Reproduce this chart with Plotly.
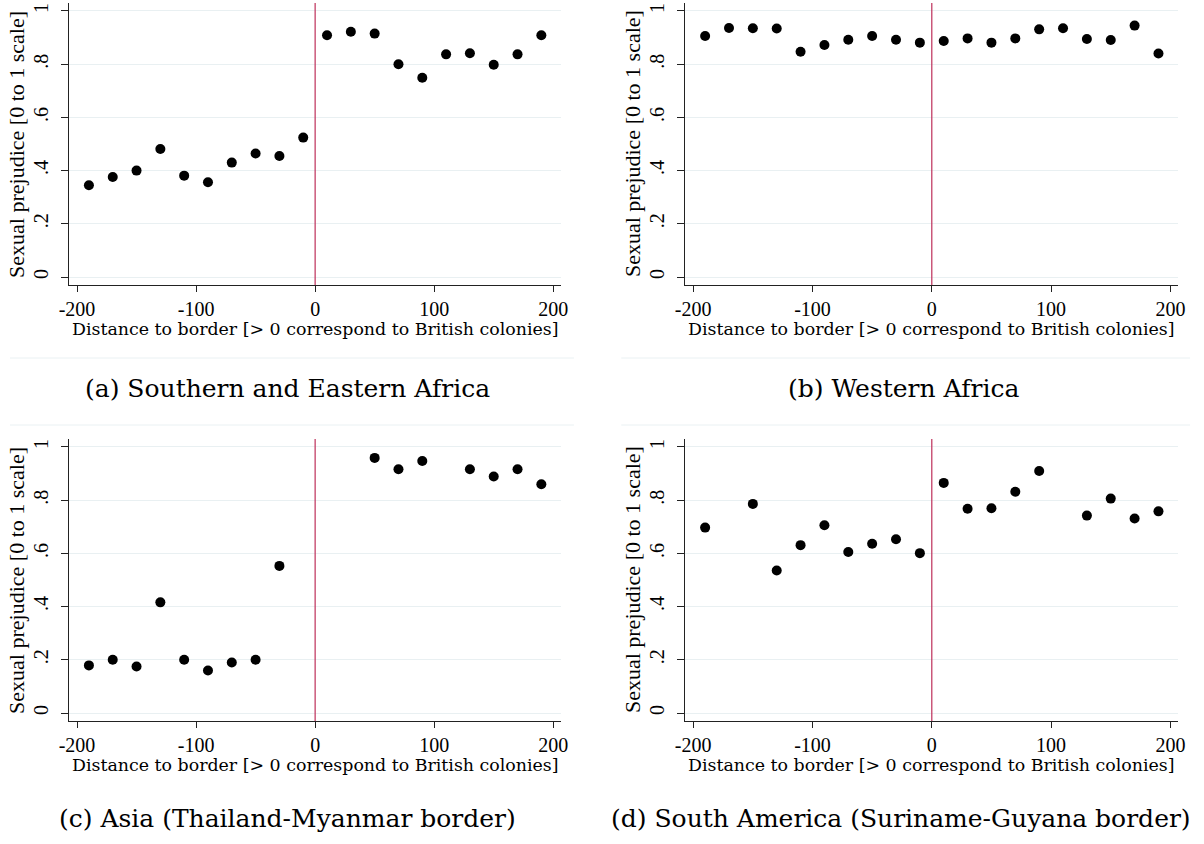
import plotly.graph_objects as go

# Distance bins (km) to the colonial border; > 0 are former British colonies
dist = [-190, -170, -150, -130, -110, -90, -70, -50, -30, -10,
        10, 30, 50, 70, 90, 110, 130, 150, 170, 190]

# Mean sexual prejudice (0-1 scale) per distance bin; None = no observations
south_east_africa = [0.345, 0.376, 0.400, 0.481, 0.381, 0.356, 0.430, 0.464, 0.455, 0.524,
                     0.909, 0.922, 0.915, 0.800, 0.749, 0.837, 0.841, 0.798, 0.837, 0.909]
western_africa = [0.906, 0.936, 0.935, 0.934, 0.847, 0.872, 0.892, 0.906, 0.892, 0.881,
                  0.887, 0.897, 0.881, 0.897, 0.931, 0.935, 0.895, 0.891, 0.945, 0.840]
asia = [0.179, 0.200, 0.175, 0.416, 0.200, 0.160, 0.190, 0.200, 0.553, None,
        None, None, 0.959, 0.916, 0.947, None, 0.916, 0.889, 0.916, 0.860]
south_america = [0.697, None, 0.786, 0.536, 0.631, 0.706, 0.605, 0.636, 0.653, 0.601,
                 0.865, 0.768, 0.770, 0.832, 0.910, None, 0.742, 0.806, 0.731, 0.758]

captions = ["(a) Southern and Eastern Africa", "(b) Western Africa",
            "(c) Asia (Thailand-Myanmar border)", "(d) South America (Suriname-Guyana border)"]

x_tickvals = [-200, -100, 0, 100, 200]
x_ticktext = ["-200", "-100", "0", "100", "200"]
y_tickvals = [0, 0.2, 0.4, 0.6, 0.8, 1]
y_ticktext = ["0", ".2", ".4", ".6", ".8", "1"]

x_title = "Distance to border [> 0 correspond to British colonies]"
y_title = "Sexual prejudice [0 to 1 scale]"

W, H = 1204, 844
SERIF = "Liberation Serif, Times New Roman, serif"
WIDE_SERIF = "DejaVu Serif, serif"

def px_x(v):
    return v / W

def px_y(v):
    return 1 - v / H

# panel geometry in pixels: (left, right, top, bottom)
panels = [(60, 559, 3, 285), (685, 1185, 3, 285),
          (60, 559, 439, 721), (685, 1185, 439, 721)]
caption_pos = [(281, 388), (906, 388), (281, 818), (904, 818)]
series = [south_east_africa, western_africa, asia, south_america]

fig = go.Figure()
layout = dict(
    width=W, height=H,
    margin=dict(l=0, r=0, t=0, b=0),
    paper_bgcolor="white", plot_bgcolor="white",
    showlegend=False,
    font=dict(family=SERIF, color="black"),
)
shapes, annotations = [], []

for i, (vals, (l, r, t, b)) in enumerate(zip(series, panels)):
    k = "" if i == 0 else str(i + 1)
    xa, ya = "x" + k, "y" + k
    fig.add_trace(go.Scatter(
        x=dist, y=vals, mode="markers", xaxis=xa, yaxis=ya,
        marker=dict(color="black", size=10, line=dict(width=0)),
        hoverinfo="x+y",
    ))
    layout["xaxis" + k] = dict(
        domain=[px_x(l), px_x(r)], anchor=ya, range=[-206.6, 206.6],
        tickvals=x_tickvals, ticktext=x_ticktext, ticks="outside", ticklen=6,
        tickcolor="#222", tickfont=dict(size=20, family=SERIF),
        showline=True, linecolor="#222", linewidth=1.2,
        showgrid=False, zeroline=False,
    )
    layout["yaxis" + k] = dict(
        domain=[px_y(b), px_y(t)], anchor=xa, range=[-0.03, 1.03],
        tickvals=y_tickvals, ticktext=y_ticktext, ticks="outside", ticklen=7,
        tickcolor="#222", tickangle=-90, tickfont=dict(size=20, family=SERIF),
        ticklabelstandoff=5,
        showline=True, linecolor="#222", linewidth=1.2,
        showgrid=True, gridcolor="#e9f0f2", gridwidth=1, zeroline=False,
    )
    # border at distance 0
    shapes.append(dict(type="line", xref=xa, yref=ya + " domain",
                       x0=0, x1=0, y0=0, y1=1,
                       line=dict(color="#bd2f5a", width=1.2)))
    # axis titles
    annotations.append(dict(text=x_title, xref="paper", yref="paper",
                            x=px_x((l + r) / 2), y=px_y(b + 44),
                            showarrow=False, xanchor="center", yanchor="middle",
                            font=dict(size=17.4, family=WIDE_SERIF)))
    annotations.append(dict(text=y_title, xref="paper", yref="paper",
                            x=px_x(l - 54), y=px_y((t + b) / 2), textangle=-90,
                            showarrow=False, xanchor="center", yanchor="middle",
                            font=dict(size=22, family=SERIF)))
    cx, cy = caption_pos[i]
    annotations.append(dict(text=captions[i], xref="paper", yref="paper",
                            x=px_x(cx), y=px_y(cy),
                            showarrow=False, xanchor="center", yanchor="middle",
                            font=dict(size=25, family=WIDE_SERIF)))

# faint outlines of the graph regions
for y0, segs in ((358, [(0, 572), (620, 1197)]), (425, [(0, 572), (620, 1197)])):
    for xs, xe in segs:
        shapes.append(dict(type="line", xref="paper", yref="paper",
                           x0=px_x(xs), x1=px_x(xe), y0=px_y(y0), y1=px_y(y0),
                           line=dict(color="#eaf1f3", width=1)))

layout["shapes"] = shapes
layout["annotations"] = annotations
fig.update_layout(**layout)
fig.write_html("out.html")
